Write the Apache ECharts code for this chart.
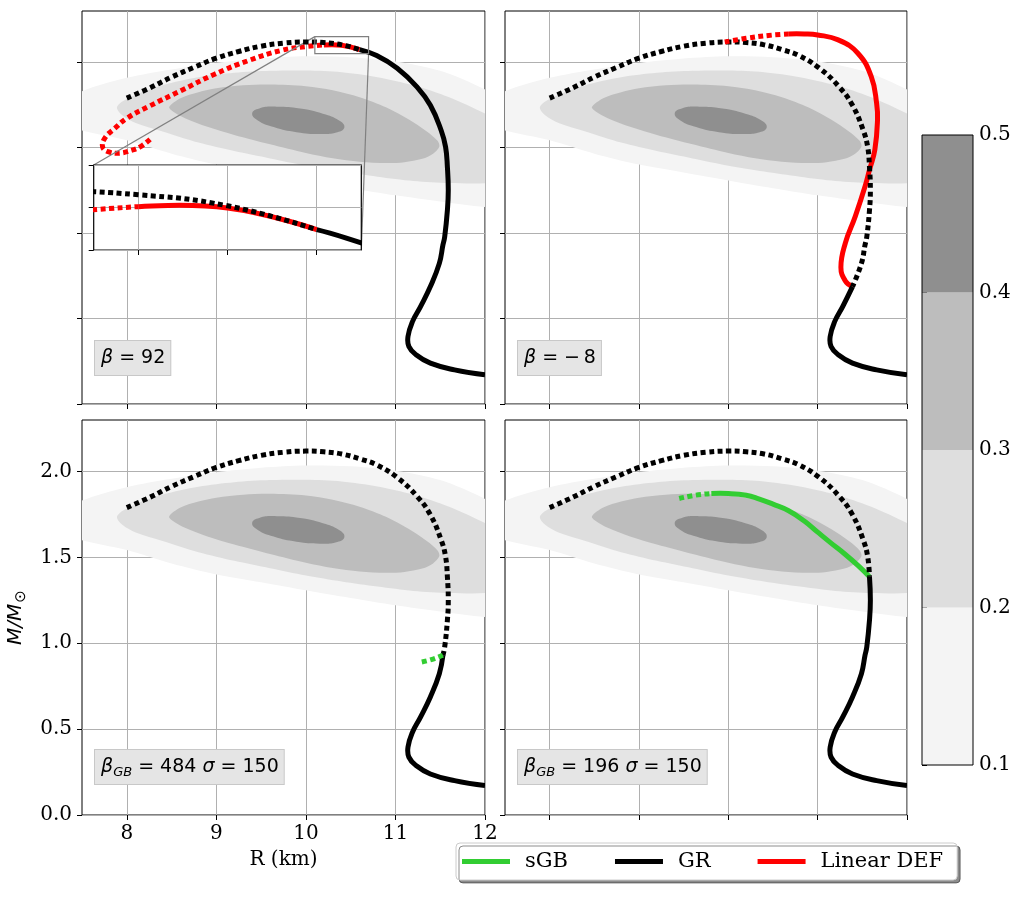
<!DOCTYPE html>
<html>
<head>
<meta charset="utf-8">
<script src="https://cdn.jsdelivr.net/npm/echarts@6.0.0/dist/echarts.min.js"></script>
<style>
html, body { margin: 0; padding: 0; background: #fff; }
#chart { width: 1024px; height: 900px; }
</style>
</head>
<body>
<div id="chart"></div>
<script>
// axes
var rRange = [7.5, 12];
var mRange = [0, 2.3];
var rTicks = [8, 9, 10, 11, 12];
var mTicks = [0, 0.5, 1.0, 1.5, 2.0];
var cbTicks = [0.1, 0.2, 0.3, 0.4, 0.5];
var insetR = [10.1, 10.7];
var insetM = [2.05, 2.15];
var insetRTicks = [10.2, 10.4, 10.6];
var insetMTicks = [2.05, 2.10, 2.15];

// probability contours (R, M), levels 0.1 .. 0.5
var contourLevels = [0.1, 0.2, 0.3, 0.4, 0.5];
var contour01 = [[7.1,1.72],[7.5,1.831],[8.0,1.909],[8.5,1.958],[9.0,1.996],[9.5,2.022],[10.0,2.035],[10.5,2.030],[11.0,2.005],[11.5,1.95],[12.0,1.84],[12.5,1.68],[12.9,1.40],
                 [12.5,1.15],[12.0,1.153],[11.5,1.185],[11.0,1.221],[10.5,1.263],[10.0,1.308],[9.5,1.355],[9.0,1.401],[8.5,1.465],[8.0,1.543],[7.5,1.60],[7.25,1.65]];
var contour02 = [[7.89,1.734],[7.95,1.77],[8.1,1.81],[8.4,1.866],[8.8,1.912],[9.2,1.938],[9.6,1.950],[10.0,1.952],[10.4,1.942],[10.8,1.913],[11.2,1.865],[11.6,1.795],[12.0,1.70],[12.3,1.62],[12.5,1.47],
                 [12.3,1.32],[12.0,1.292],[11.6,1.293],[11.2,1.305],[10.8,1.33],[10.4,1.36],[10.0,1.395],[9.6,1.437],[9.2,1.48],[8.8,1.53],[8.4,1.595],[8.1,1.645],[7.95,1.69]];
var contour03 = [[8.473,1.738],[8.6,1.79],[8.8,1.825],[9.0,1.848],[9.3,1.865],[9.6,1.870],[10.0,1.860],[10.3,1.836],[10.6,1.795],[10.9,1.735],[11.15,1.665],[11.35,1.595],[11.47,1.54],[11.49,1.506],
                 [11.42,1.465],[11.3,1.435],[11.1,1.415],[10.9,1.410],[10.6,1.418],[10.3,1.438],[10.0,1.469],[9.6,1.52],[9.2,1.575],[8.9,1.622],[8.65,1.672],[8.52,1.71]];
var contour04 = [[10.430,1.619],[10.371,1.659],[10.190,1.699],[9.935,1.729],[9.675,1.740],[9.479,1.730],[9.400,1.701],[9.459,1.661],[9.640,1.621],[9.895,1.591],[10.155,1.580],[10.351,1.590]];
var contourShapes = [contour01, contour02, contour03, contour04];

// GR mass-radius curve
var grCurve = [[8.00,1.790],[8.25,1.848],[8.50,1.913],[8.75,1.970],[9.00,2.024],[9.25,2.063],[9.50,2.094],[9.75,2.112],[10.00,2.119],[10.20,2.115],[10.40,2.102],[10.60,2.074],
               [10.79,2.039],[11.02,1.965],[11.24,1.856],[11.39,1.748],[11.51,1.602],[11.56,1.504],[11.58,1.387],[11.59,1.251],[11.58,1.134],[11.55,0.979],[11.53,0.930],[11.49,0.823],
               [11.39,0.687],[11.28,0.570],[11.19,0.482],[11.14,0.395],[11.15,0.337],[11.23,0.288],[11.39,0.239],[11.66,0.200],[12.00,0.171]];
// last index of the dotted part of GR in each panel (TL, TR, BL, BR)
var grSplit = [11, 24, 22, 18];

// Linear DEF, beta = 92 (dotted up to index 15)
var def92 = [[8.26,1.549],[8.15,1.505],[8.05,1.484],[7.92,1.468],[7.80,1.475],[7.73,1.505],[7.76,1.560],[7.86,1.610],[8.00,1.672],[8.24,1.740],[8.61,1.835],[8.98,1.930],[9.36,2.010],
             [9.73,2.070],[10.00,2.092],[10.20,2.101],[10.40,2.0995],[10.60,2.074]];
var def92Split = 15;
// Linear DEF, beta = -8 (dotted up to index 3)
var defM8 = [[9.96,2.119],[10.20,2.140],[10.45,2.157],[10.67,2.166],[10.85,2.166],[11.00,2.160],[11.23,2.131],[11.45,2.053],[11.60,1.916],[11.66,1.760],[11.67,1.663],[11.64,1.487],
             [11.58,1.370],[11.53,1.273],[11.42,1.097],[11.31,0.942],[11.26,0.800],[11.31,0.720],[11.39,0.687]];
var defM8Split = 3;
// sGB, beta_GB = 484 (all dotted)
var sgb484 = [[11.53,0.930],[11.40,0.905],[11.27,0.888]];
// sGB, beta_GB = 196 (dotted up to index 2)
var sgb196 = [[9.45,1.843],[9.63,1.862],[9.81,1.872],[10.00,1.872],[10.20,1.862],[10.34,1.841],[10.50,1.810],[10.67,1.773],[10.85,1.712],[11.00,1.647],[11.15,1.583],[11.30,1.521],[11.45,1.453],[11.58,1.387]];
var sgb196Split = 2;

var panelLabels = ['{i|β} = 92', '{i|β} = −\u20098', '{i|β}{s|GB} = 484 {i|σ} = 150', '{i|β}{s|GB} = 196 {i|σ} = 150'];

var greyColors = ['#f4f4f4', '#dedede', '#bdbdbd', '#8f8f8f'];
var serif = 'DejaVu Serif';
var sans = 'DejaVu Sans';

var panels = [
    {left: 82, top: 11, width: 403, height: 393, xl: false, yl: false},
    {left: 505, top: 11, width: 402, height: 393, xl: false, yl: false},
    {left: 82, top: 420, width: 403, height: 395, xl: true, yl: true},
    {left: 505, top: 420, width: 402, height: 395, xl: false, yl: false}
];

var chart = echarts.init(document.getElementById('chart'));

var grids = [], xAxes = [], yAxes = [], series = [];

function tickStyle() {
    return {show: true, length: 5, lineStyle: {color: '#000', width: 1}};
}

panels.forEach(function (p, i) {
    grids.push({left: p.left, top: p.top, width: p.width, height: p.height, show: true,
        borderColor: '#000', borderWidth: 1, backgroundColor: 'transparent'});
    var xa = {
        type: 'value', gridIndex: i, min: rRange[0], max: rRange[1],
        axisLine: {show: false, onZero: false},
        axisTick: Object.assign(tickStyle(), {customValues: rTicks}),
        axisLabel: {show: p.xl, customValues: rTicks, fontFamily: serif, fontSize: 20, color: '#000', margin: 9,
            formatter: function (v) { return String(v); }},
        splitLine: {show: true, lineStyle: {color: '#b0b0b0', width: 1}}
    };
    var ya = {
        type: 'value', gridIndex: i, min: mRange[0], max: mRange[1],
        axisLine: {show: false, onZero: false},
        axisTick: Object.assign(tickStyle(), {customValues: mTicks}),
        axisLabel: {show: p.yl, customValues: mTicks, fontFamily: serif, fontSize: 20, color: '#000', margin: 10,
            formatter: function (v) { return v.toFixed(1); }},
        splitLine: {show: true, lineStyle: {color: '#b0b0b0', width: 1}}
    };
    if (i == 2) {
        xa.name = 'R (km)';
        xa.nameLocation = 'middle';
        xa.nameGap = 35;
        xa.nameTextStyle = {fontFamily: serif, fontSize: 20, color: '#000'};
        ya.name = '{i|M/M}{s|⊙}';
        ya.nameLocation = 'middle';
        ya.nameGap = 52;
        ya.nameTextStyle = {color: '#000', rich: {
            i: {fontFamily: sans, fontStyle: 'italic', fontSize: 20, lineHeight: 28, verticalAlign: 'middle'},
            s: {fontFamily: sans, fontSize: 15, lineHeight: 28, verticalAlign: 'bottom', padding: [0, 0, 1, 1]}
        }};
    }
    xAxes.push(xa);
    yAxes.push(ya);
});

// inset (grid 4)
grids.push({left: 93.7, top: 165, width: 267.6, height: 85, show: true, z: 9,
    borderColor: '#000', borderWidth: 1.2, backgroundColor: '#fff'});
xAxes.push({type: 'value', gridIndex: 4, min: insetR[0], max: insetR[1], z: 10,
    axisLine: {show: false, onZero: false},
    axisTick: Object.assign(tickStyle(), {customValues: insetRTicks}),
    axisLabel: {show: false, customValues: insetRTicks},
    splitLine: {show: true, lineStyle: {color: '#b0b0b0', width: 1}}});
yAxes.push({type: 'value', gridIndex: 4, min: insetM[0], max: insetM[1], z: 10,
    axisLine: {show: false, onZero: false},
    axisTick: Object.assign(tickStyle(), {customValues: insetMTicks}),
    axisLabel: {show: false, customValues: insetMTicks},
    splitLine: {show: true, lineStyle: {color: '#b0b0b0', width: 1}}});

// colorbar (grid 5)
grids.push({left: 922, top: 135, width: 51, height: 630, show: true, z: 3,
    borderColor: '#000', borderWidth: 1, backgroundColor: 'transparent'});
xAxes.push({type: 'value', gridIndex: 5, min: 0, max: 1, show: false});
yAxes.push({type: 'value', gridIndex: 5, min: cbTicks[0], max: cbTicks[cbTicks.length - 1], position: 'right',
    axisLine: {show: false},
    axisTick: Object.assign(tickStyle(), {customValues: cbTicks}),
    axisLabel: {customValues: cbTicks, fontFamily: serif, fontSize: 20, color: '#000', margin: 6,
        formatter: function (v) { return v.toFixed(1); }},
    splitLine: {show: false}});

// a curve through the given points, drawn as one smooth path in the grid's coordinates
function curveSeries(name, pts, grid, color, dotted, z) {
    return {
        name: name, type: 'custom', xAxisIndex: grid, yAxisIndex: grid,
        data: pts, clip: true, silent: true, z: z, animation: false,
        itemStyle: {color: color},
        renderItem: function (params, api) {
            if (params.dataIndex !== 0) return;
            var p = pts.map(function (d) { return api.coord(d); });
            return {
                type: 'polyline', shape: {points: p, smooth: 0.45},
                style: {stroke: color, fill: null, lineWidth: 5, lineCap: 'butt', lineJoin: 'round',
                    lineDash: dotted ? [5, 3.5] : null}
            };
        }
    };
}

// solid series first so the legend picks plain lines
series.push(curveSeries('GR', grCurve.slice(grSplit[0]), 0, '#000', false, 5));
series.push(curveSeries('Linear DEF', def92.slice(def92Split), 0, '#ff0000', false, 4));
series.push(curveSeries('sGB', sgb196.slice(sgb196Split), 3, '#32cd32', false, 4));

for (var i = 0; i < 4; i++) {
    series.push({
        type: 'custom', xAxisIndex: i, yAxisIndex: i, clip: true, silent: true, z: 1, animation: false,
        data: contourShapes.map(function (s, k) { return [k]; }),
        renderItem: function (params, api) {
            var k = params.dataIndex;
            var pts = contourShapes[k].map(function (p) { return api.coord(p); });
            return {type: 'polygon', shape: {points: pts, smooth: k == 3 ? 0.5 : 0.3}, style: {fill: greyColors[k]}};
        }
    });
    series.push(curveSeries('GR', grCurve.slice(0, grSplit[i] + 1), i, '#000', true, 5));
    if (i > 0) series.push(curveSeries('GR', grCurve.slice(grSplit[i]), i, '#000', false, 5));
}
series.push(curveSeries('Linear DEF', def92.slice(0, def92Split + 1), 0, '#ff0000', true, 4));
series.push(curveSeries('Linear DEF', defM8.slice(0, defM8Split + 1), 1, '#ff0000', true, 6));
series.push(curveSeries('Linear DEF', defM8.slice(defM8Split), 1, '#ff0000', false, 4));
series.push(curveSeries('sGB', sgb484, 2, '#32cd32', true, 6));
series.push(curveSeries('sGB', sgb196.slice(0, sgb196Split + 1), 3, '#32cd32', true, 4));

// zoom rectangle on the first panel
series.push({
    type: 'custom', xAxisIndex: 0, yAxisIndex: 0, silent: true, z: 6, animation: false,
    data: [[insetR[0], insetM[0], insetR[1], insetM[1]]],
    renderItem: function (params, api) {
        var a = api.coord([api.value(0), api.value(3)]);
        var b = api.coord([api.value(2), api.value(1)]);
        return {type: 'rect', shape: {x: a[0], y: a[1], width: b[0] - a[0], height: b[1] - a[1]},
            style: {fill: 'none', stroke: '#808080', lineWidth: 1.2}};
    }
});

// inset curves
series.push(curveSeries('Linear DEF', def92.slice(0, def92Split + 1), 4, '#ff0000', true, 11));
series.push(curveSeries('Linear DEF', def92.slice(def92Split), 4, '#ff0000', false, 11));
series.push(curveSeries('GR', grCurve.slice(0, grSplit[0] + 1), 4, '#000', true, 12));
series.push(curveSeries('GR', grCurve.slice(grSplit[0]), 4, '#000', false, 12));

// colorbar
series.push({
    type: 'custom', xAxisIndex: 5, yAxisIndex: 5, silent: true, z: 1, animation: false,
    data: greyColors.map(function (c, k) { return [contourLevels[k], contourLevels[k + 1]]; }),
    renderItem: function (params, api) {
        var a = api.coord([0, api.value(1)]);
        var b = api.coord([1, api.value(0)]);
        return {type: 'rect', shape: {x: a[0], y: a[1], width: b[0] - a[0], height: b[1] - a[1]},
            style: {fill: greyColors[params.dataIndex]}};
    }
});

var boxRich = {
    i: {fontFamily: sans, fontStyle: 'italic', fontSize: 19, lineHeight: 24, verticalAlign: 'middle'},
    s: {fontFamily: sans, fontStyle: 'italic', fontSize: 13, lineHeight: 24, verticalAlign: 'bottom'}
};
var boxPos = [[94, 340], [517, 340], [94, 749], [517, 749]];
var graphics = panelLabels.map(function (t, k) {
    return {
        id: 'lab' + k, type: 'text', left: boxPos[k][0], top: boxPos[k][1], z: 20,
        style: {text: t, rich: boxRich, fontFamily: sans, fontSize: 19, fill: '#000', lineHeight: 24,
            backgroundColor: '#e5e5e5', borderColor: '#c8c8c8', borderWidth: 1, padding: [5, 5, 5, 6]}
    };
});

var option = {
    backgroundColor: '#fff',
    animation: false,
    grid: grids,
    xAxis: xAxes,
    yAxis: yAxes,
    legend: {
        left: 456, top: 843,
        data: ['sGB', 'GR', 'Linear DEF'],
        icon: 'rect', itemWidth: 48, itemHeight: 5, itemGap: 47,
        itemStyle: {borderWidth: 0},
        textStyle: {fontFamily: serif, fontSize: 21, color: '#000', padding: [0, 0, 0, 10]},
        backgroundColor: '#fff', borderColor: '#cccccc', borderWidth: 1, borderRadius: 4,
        padding: [8, 14, 8, 6],
        shadowColor: 'rgba(0,0,0,0.45)', shadowBlur: 0, shadowOffsetX: 3, shadowOffsetY: 3,
        selectedMode: false
    },
    graphic: graphics,
    series: series
};

chart.setOption(option);

// connector lines from the zoom rectangle to the inset
var r1 = chart.convertToPixel({gridIndex: 0}, [insetR[0], insetM[1]]);
var s1 = chart.convertToPixel({gridIndex: 4}, [insetR[0], insetM[1]]);
var r2 = chart.convertToPixel({gridIndex: 0}, [insetR[1], insetM[0]]);
var s2 = chart.convertToPixel({gridIndex: 4}, [insetR[1], insetM[0]]);
chart.setOption({graphic: [
    {id: 'con1', type: 'line', z: 5, silent: true, shape: {x1: r1[0], y1: r1[1], x2: s1[0], y2: s1[1]}, style: {stroke: '#808080', lineWidth: 1.2}},
    {id: 'con2', type: 'line', z: 5, silent: true, shape: {x1: r2[0], y1: r2[1], x2: s2[0], y2: s2[1]}, style: {stroke: '#808080', lineWidth: 1.2}}
]});
</script>
</body>
</html>
